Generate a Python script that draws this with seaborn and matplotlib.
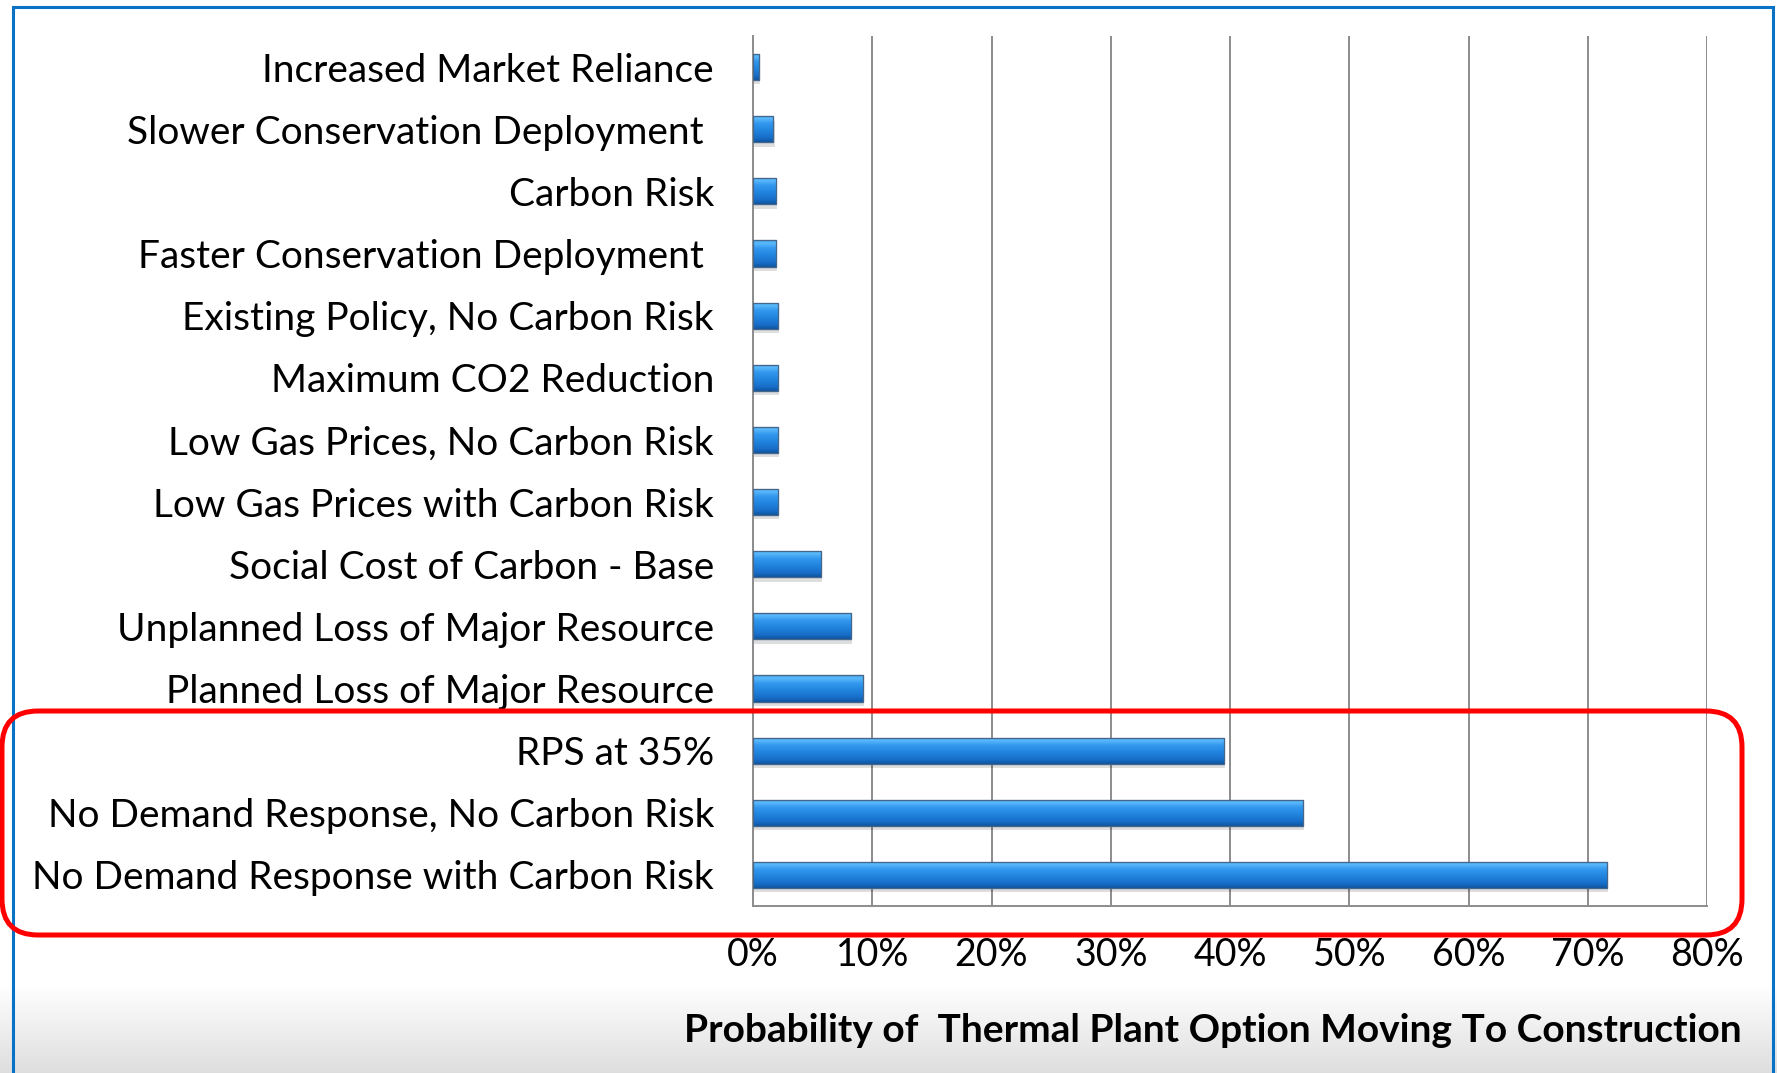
import matplotlib
matplotlib.use("Agg")
import matplotlib.pyplot as plt
from matplotlib.patches import Rectangle, FancyBboxPatch
from matplotlib.colors import LinearSegmentedColormap
import numpy as np
import pandas as pd
import seaborn as sns

scenarios = [
    "Increased Market Reliance",
    "Slower Conservation Deployment ",
    "Carbon Risk",
    "Faster Conservation Deployment ",
    "Existing Policy, No Carbon Risk",
    "Maximum CO2 Reduction",
    "Low Gas Prices, No Carbon Risk",
    "Low Gas Prices with Carbon Risk",
    "Social Cost of Carbon - Base",
    "Unplanned Loss of Major Resource",
    "Planned Loss of Major Resource",
    "RPS at 35%",
    "No Demand Response, No Carbon Risk",
    "No Demand Response with Carbon Risk",
]
probability = [0.005, 0.017, 0.019, 0.019, 0.021, 0.021, 0.021, 0.021,
               0.057, 0.082, 0.092, 0.395, 0.461, 0.716]
x_ticks = [0, 0.1, 0.2, 0.3, 0.4, 0.5, 0.6, 0.7, 0.8]

df = pd.DataFrame({"scenario": scenarios, "prob": probability})

sns.set_style("white")
plt.rcParams["font.family"] = ["Lato", "DejaVu Sans"]
plt.rcParams["text.color"] = "black"
plt.rcParams["xtick.color"] = "black"
plt.rcParams["ytick.color"] = "black"

W, H = 1777, 1073
fig = plt.figure(figsize=(W / 100, H / 100), dpi=100)

# background: white with grey fade at the bottom
bg = fig.add_axes([0, 0, 1, 1], zorder=-10)
bg.set_axis_off()
grad = np.ones((H, 1))
start = 985
grad[start:, 0] = np.linspace(1.0, 0.87, H - start)
bg.imshow(np.dstack([grad, grad, grad]), aspect="auto", extent=[0, 1, 0, 1])
bg.set_xlim(0, 1)
bg.set_ylim(0, 1)

ax = fig.add_axes([753 / W, 1 - 906 / H, (1707 - 753) / W, (906 - 36) / H])
sns.barplot(data=df, x="prob", y="scenario", orient="h", color="#2186e0",
            width=0.42, ax=ax, edgecolor="#3d5f85", linewidth=0.8, zorder=3)

# glossy gradient on each bar (row 0 = top of bar on the inverted axis)
cmap = LinearSegmentedColormap.from_list(
    "bar", [(0.0, "#48a8ef"), (0.12, "#5ab9fb"), (0.3, "#3398ee"),
            (0.55, "#2286e0"), (0.85, "#176dc8"), (1.0, "#10559f")])
for p in ax.patches:
    x0, y0 = p.get_x(), p.get_y()
    w, h = p.get_width(), p.get_height()
    # soft shadow
    ax.add_patch(Rectangle((x0 + 0.0012, y0 + 0.07), w, h, facecolor="#000000",
                           alpha=0.13, linewidth=0, zorder=2))
    g = np.linspace(0, 1, 64).reshape(-1, 1)
    im = ax.imshow(g, cmap=cmap, aspect="auto", origin="upper",
                   extent=[x0, x0 + w, y0 + h, y0], zorder=3.5)
    im.set_clip_path(p)
    ax.add_patch(Rectangle((x0, y0), w, h, facecolor="none",
                           edgecolor="#45678c", linewidth=0.9, zorder=4))

ax.set_xlim(0, 0.8)
ax.set_ylim(len(scenarios) - 0.5, -0.5)
ax.set_xticks(x_ticks)
ax.set_xticklabels([f"{int(round(t * 100))}%" for t in x_ticks])
ax.set_yticks(range(len(scenarios)))
ax.set_yticks(np.arange(-0.5, len(scenarios), 1.0), minor=True)
ax.tick_params(axis="y", which="major", length=0, pad=28, labelsize=28)
ax.tick_params(axis="y", which="minor", length=9.5, width=1.4, color="#8c8c8c",
               direction="out")
ax.tick_params(axis="x", length=10, width=1.4, color="#8c8c8c", pad=12,
               labelsize=27, labelcolor="black")
ax.grid(axis="x", color="#8c8c8c", linewidth=1.4, zorder=0)
ax.set_axisbelow(True)
for s in ["top", "right"]:
    ax.spines[s].set_visible(False)
for s in ["left", "bottom"]:
    ax.spines[s].set_color("#8c8c8c")
    ax.spines[s].set_linewidth(1.4)
ax.set_ylabel("")
ax.set_xlabel("")

fig.text(1742 / W, 1 - 1030 / H,
         "Probability of  Thermal Plant Option Moving To Construction",
         ha="right", va="center", fontsize=28, fontweight="bold", color="black")

# blue slide frame
fig.add_artist(Rectangle((13 / W, -0.01), (1773 - 13) / W, 1 - 7 / H + 0.01,
                         transform=fig.transFigure, facecolor="none",
                         edgecolor="#0a72c4", linewidth=2.2))

# red rounded highlight box
fig.add_artist(FancyBboxPatch((2, H - 935), 1742 - 2, 935 - 711,
                              boxstyle="round,pad=0,rounding_size=36",
                              transform=None, facecolor="none",
                              edgecolor="#ff0000", linewidth=3.6, zorder=20))

fig.savefig("out.png", dpi=100)
